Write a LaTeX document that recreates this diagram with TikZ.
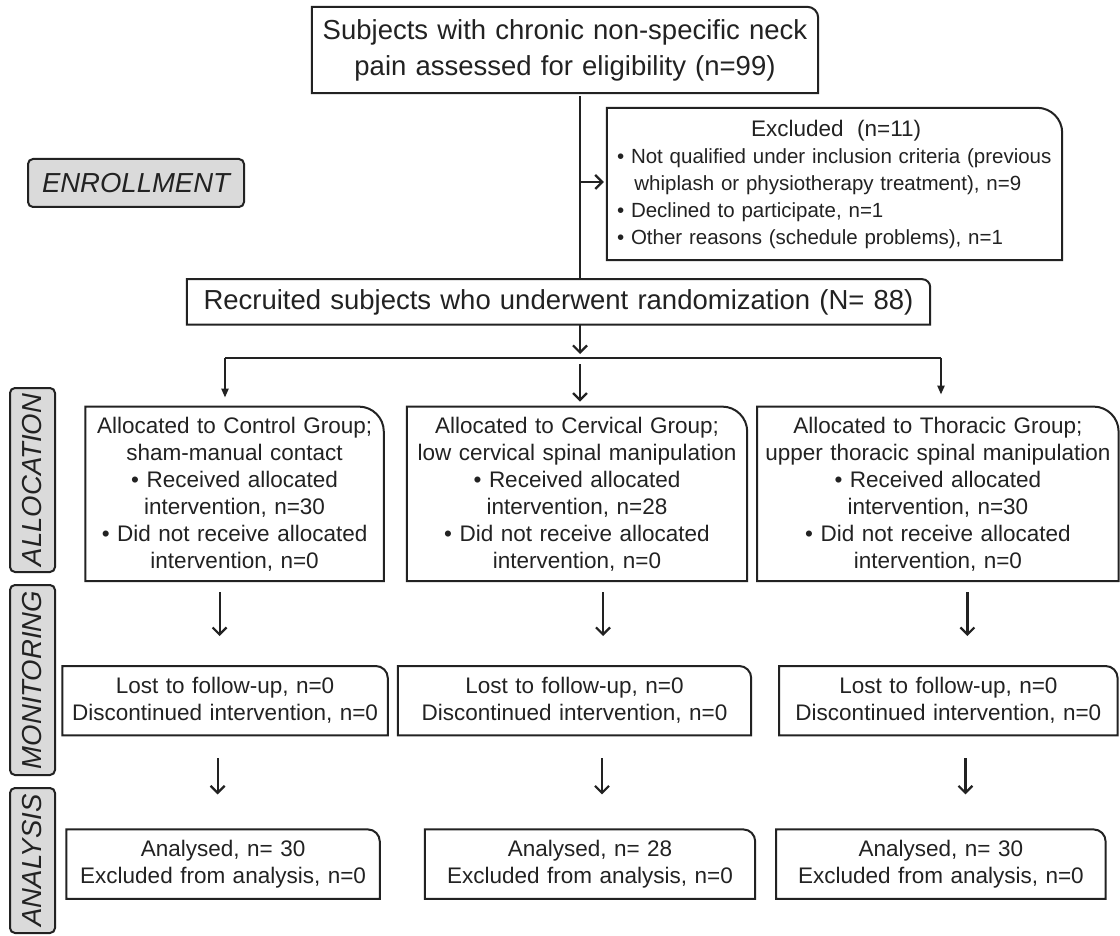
\documentclass[tikz,border=0pt]{standalone}
\usepackage{fontspec}
\setmainfont{Liberation Sans}
\usetikzlibrary{arrows.meta, positioning}
\definecolor{mydark}{RGB}{34,34,34}
\definecolor{mygrey}{RGB}{218,218,218}
\tikzset{
  tagbox/.style={rectangle, inner sep=0pt, align=center, text=mydark,
    font=\fontsize{22.5}{27}\selectfont},
  bigbox/.style={tagbox, font=\fontsize{27.5}{36}\selectfont},
  sidetag/.style={rectangle, draw=mydark, fill=mygrey, rounded corners=5pt,
    line width=2pt, inner sep=0pt, text=mydark,
    font=\fontsize{27.5}{30}\selectfont\itshape},
  boxline/.style={draw=mydark, line width=2pt},
  arrow/.style={-{Straight Barb[length=7pt,width=14pt]}, line width=2.2pt, color=mydark},
  smallarrow/.style={-{Triangle[length=9pt,width=7pt]}, line width=2.2pt, color=mydark},
  line/.style={line width=2.4pt, color=mydark}
}
\begin{document}
\begin{tikzpicture}[x=1pt, y=1pt]
  \fill[white] (0,0) rectangle (1120,-936);
  \useasboundingbox (0,0) rectangle (1120,-936);

  % Enrollment
  \node[bigbox, text width=506pt, minimum height=86pt] (top) at (565,-50)
    {Subjects with chronic non-specific neck\\pain assessed for eligibility (n=99)};
  \node[bigbox, text width=743pt, minimum height=45pt, below=186pt of top, xshift=-6.5pt] (recruit)
    {Recruited subjects who underwent randomization (N= 88)};
  \node[tagbox, text width=435pt, minimum height=152pt, inner sep=10pt, align=left,
    font=\fontsize{20.5}{27}\selectfont] (excl) at (834.5,-184)
    {\hspace*{134pt}{\fontsize{22.5}{27}\selectfont Excluded\ \ (n=11)}\\
     \textbullet\ Not qualified under inclusion criteria (previous\\
     \hspace*{0.85em}whiplash or physiotherapy treatment), n=9\\
     \textbullet\ Declined to participate, n=1\\
     \textbullet\ Other reasons (schedule problems), n=1};

  % Allocation
  \node[tagbox, text width=340pt, minimum height=174pt, below=82pt of recruit, xshift=18.5pt] (cerv)
    {Allocated to Cervical Group;\\low cervical spinal manipulation\\\textbullet\ Received allocated\\intervention, n=28\\\textbullet\ Did not receive allocated\\intervention, n=0};
  \node[tagbox, text width=298pt, minimum height=174pt, left=23pt of cerv] (ctrl)
    {Allocated to Control Group;\\sham-manual contact\\\textbullet\ Received allocated\\intervention, n=30\\\textbullet\ Did not receive allocated\\intervention, n=0};
  \node[tagbox, text width=361pt, minimum height=174pt, right=10pt of cerv] (thor)
    {Allocated to Thoracic Group;\\upper thoracic spinal manipulation\\\textbullet\ Received allocated\\intervention, n=30\\\textbullet\ Did not receive allocated\\intervention, n=0};

  % Monitoring
  \node[tagbox, text width=353pt, minimum height=69pt, below=85pt of cerv, xshift=-2.5pt] (mon2)
    {Lost to follow-up, n=0\\Discontinued intervention, n=0};
  \node[tagbox, text width=325pt, minimum height=69pt, left=10pt of mon2] (mon1)
    {Lost to follow-up, n=0\\Discontinued intervention, n=0};
  \node[tagbox, text width=338pt, minimum height=69pt, right=28pt of mon2] (mon3)
    {Lost to follow-up, n=0\\Discontinued intervention, n=0};

  % Analysis
  \node[tagbox, text width=330pt, minimum height=69pt, below=94pt of mon2, xshift=15.5pt] (ana2)
    {Analysed, n= 28\\Excluded from analysis, n=0};
  \node[tagbox, text width=313pt, minimum height=69pt, left=45pt of ana2] (ana1)
    {Analysed, n= 30\\Excluded from analysis, n=0};
  \node[tagbox, text width=329pt, minimum height=69pt, right=21pt of ana2] (ana3)
    {Analysed, n= 30\\Excluded from analysis, n=0};

  % Side tags
  \node[sidetag, minimum width=216pt, minimum height=48pt] (enrolltag) at (136,-183) {ENROLLMENT};
  \node[sidetag, rotate=90, minimum width=184pt, minimum height=45pt] (alloctag) at (32.5,-480) {ALLOCATION};
  \node[sidetag, rotate=90, minimum width=190pt, minimum height=45pt] (montag) at (32.5,-680) {MONITORING};
  \node[sidetag, rotate=90, minimum width=145pt, minimum height=45pt] (anatag) at (32.5,-860.5) {ANALYSIS};

  % Box outlines, one rounded corner
  \foreach \n/\r in {top/11pt, recruit/8pt, excl/25pt, ctrl/25pt, cerv/25pt, thor/25pt,
      mon1/12pt, mon2/12pt, mon3/12pt, ana1/12pt, ana2/12pt, ana3/12pt}
    \draw[boxline] (\n.south west) -- (\n.north west) -- ([xshift=-\r]\n.north east)
      arc[start angle=90, end angle=0, radius=\r] -- (\n.south east) -- cycle;

  % Connections
  \coordinate (jct) at (580,-182);
  \coordinate (split) at (580,-358);
  \coordinate (lsplit) at (225,-358);
  \coordinate (rsplit) at (941,-358);
  \draw[line, shorten <=3pt] (top.south -| jct) -- (recruit.north -| jct);
  \draw[arrow, shorten >=3pt] (jct) -- (excl.west |- jct);
  \draw[arrow, shorten >=4pt] (recruit.south -| split) -- (split);
  \draw[line] (lsplit) -- (rsplit);
  \draw[smallarrow, shorten >=9pt] (lsplit) -- (ctrl.north -| lsplit);
  \draw[arrow, shorten <=6pt, shorten >=5pt] (split) -- (cerv.north -| split);
  \draw[smallarrow, shorten >=12pt] (rsplit) -- (thor.north -| rsplit);

  \draw[arrow, shorten <=11pt, shorten >=30pt] ([xshift=-15pt]ctrl.south) -- ([xshift=-15pt]ctrl.south |- mon1.north);
  \draw[arrow, shorten <=11pt, shorten >=30pt] ([xshift=26pt]cerv.south) -- ([xshift=26pt]cerv.south |- mon2.north);
  \draw[arrow, shorten <=11pt, shorten >=30pt] ([xshift=29.5pt]thor.south) -- ([xshift=29.5pt]thor.south |- mon3.north);

  \draw[arrow, shorten <=23pt, shorten >=35pt] ([xshift=-7.5pt]mon1.south) -- ([xshift=-7.5pt]mon1.south |- ana1.north);
  \draw[arrow, shorten <=23pt, shorten >=35pt] ([xshift=27.5pt]mon2.south) -- ([xshift=27.5pt]mon2.south |- ana2.north);
  \draw[arrow, shorten <=23pt, shorten >=35pt] ([xshift=17pt]mon3.south) -- ([xshift=17pt]mon3.south |- ana3.north);
\end{tikzpicture}
\end{document}
